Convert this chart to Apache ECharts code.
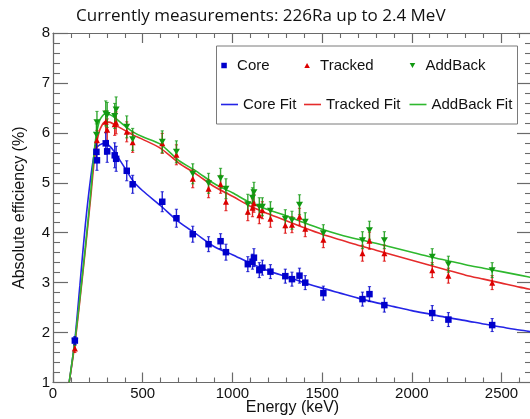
<!DOCTYPE html>
<html><head><meta charset="utf-8">
<script src="https://cdn.jsdelivr.net/npm/echarts@6/dist/echarts.min.js"></script>
<style>html,body{margin:0;padding:0;background:#fff}#c{width:530px;height:419px}</style>
</head><body><div id="c"></div>
<script>
// ---- data ----
const titleText = 'Currently measurements: 226Ra up to 2.4 MeV';
const xTickValues = [0, 500, 1000, 1500, 2000, 2500];
const yTickValues = [1, 2, 3, 4, 5, 6, 7, 8];

const energies = [121.8, 242, 245, 294, 302, 344, 352, 411, 444, 609, 688, 779, 867, 934, 964,
  1086, 1112, 1120, 1150, 1167, 1212, 1295, 1332, 1374, 1406, 1507, 1725, 1764, 1847, 2114, 2204, 2448];
const coreEff = [1.84, 5.62, 5.45, 5.79, 5.63, 5.55, 5.48, 5.24, 4.97, 4.62, 4.29, 3.97, 3.77, 3.83, 3.61,
  3.37, 3.42, 3.50, 3.25, 3.30, 3.22, 3.13, 3.07, 3.14, 3.00, 2.79, 2.67, 2.77, 2.55, 2.39, 2.26, 2.15];
const coreErr = [0.08, 0.2, 0.2, 0.22, 0.22, 0.25, 0.25, 0.2, 0.18, 0.2, 0.18, 0.16, 0.15, 0.15, 0.16,
  0.15, 0.15, 0.18, 0.15, 0.15, 0.14, 0.14, 0.14, 0.15, 0.14, 0.14, 0.14, 0.15, 0.14, 0.15, 0.14, 0.13];
const trackedEff = [1.68, 5.62, 5.85, 6.22, 6.06, 6.17, 6.20, 6.02, 5.81, 5.79, 5.56, 5.08, 4.88, 4.97, 4.62,
  4.42, 4.50, 4.59, 4.35, 4.45, 4.28, 4.15, 4.16, 4.32, 4.08, 3.86, 3.59, 3.84, 3.59, 3.25, 3.14, 3.00];
const trackedErr = [0.08, 0.2, 0.2, 0.22, 0.22, 0.22, 0.22, 0.2, 0.2, 0.2, 0.2, 0.18, 0.18, 0.18, 0.18,
  0.18, 0.18, 0.18, 0.17, 0.17, 0.17, 0.16, 0.16, 0.17, 0.16, 0.16, 0.16, 0.17, 0.16, 0.15, 0.15, 0.14];
const addbackEff = [1.82, 5.96, 6.21, 6.39, 6.36, 6.34, 6.47, 6.12, 5.87, 5.82, 5.62, 5.18, 4.99, 5.09, 4.88,
  4.57, 4.70, 4.81, 4.52, 4.52, 4.44, 4.28, 4.25, 4.56, 4.22, 3.99, 3.85, 4.05, 3.85, 3.52, 3.37, 3.25];
const addbackErr = [0.08, 0.22, 0.22, 0.25, 0.25, 0.25, 0.25, 0.22, 0.22, 0.22, 0.22, 0.2, 0.2, 0.2, 0.2,
  0.2, 0.2, 0.2, 0.18, 0.18, 0.18, 0.18, 0.18, 0.2, 0.18, 0.17, 0.17, 0.18, 0.17, 0.16, 0.16, 0.15];

const fitEnergies = [90, 121, 150, 180, 210, 235, 260, 290, 320, 350, 400, 450, 500, 600, 700, 800, 900, 1000,
  1100, 1200, 1300, 1400, 1500, 1600, 1700, 1800, 1900, 2000, 2100, 2200, 2300, 2400, 2500, 2600, 2700];
const coreFit = [1.0, 1.82, 2.95, 4.15, 5.1, 5.66, 5.76, 5.79, 5.72, 5.58, 5.3, 5.02, 4.84, 4.54, 4.22, 3.97, 3.72, 3.56,
  3.39, 3.24, 3.12, 3.0, 2.89, 2.79, 2.69, 2.6, 2.52, 2.44, 2.37, 2.3, 2.24, 2.17, 2.11, 2.05, 2.0];
const trackedFit = [1.0, 1.75, 2.65, 3.65, 4.7, 5.6, 6.05, 6.22, 6.21, 6.15, 6.05, 5.95, 5.87, 5.69, 5.4, 5.17, 4.92, 4.73,
  4.53, 4.38, 4.24, 4.1, 3.97, 3.86, 3.75, 3.65, 3.55, 3.45, 3.35, 3.25, 3.15, 3.07, 2.99, 2.91, 2.84];
const addbackFit = [1.0, 1.8, 2.7, 3.7, 4.8, 5.8, 6.25, 6.38, 6.36, 6.29, 6.14, 6.01, 5.92, 5.77, 5.45, 5.23, 4.98, 4.8,
  4.6, 4.46, 4.34, 4.2, 4.07, 3.96, 3.87, 3.79, 3.7, 3.61, 3.52, 3.44, 3.36, 3.29, 3.22, 3.15, 3.08];

// ---- styles ----
const FONT = '"Liberation Sans", Arial, sans-serif';
const AX = '#6a6a6a';
const cCore = '#0000cc', cTr = '#dd0000', cAb = '#119911';
const lCore = '#2424e6', lTr = '#e52b2b', lAb = '#2eb82e';
const triUp = 'path://M5,0 L10,9 L0,9 Z';
const triDown = 'path://M0,0 L10,0 L5,9 Z';
const square = 'path://M0,0 L10,0 L10,10 L0,10 Z';

function pts(vals) { return energies.map((e, i) => [e, vals[i]]); }
function fitPts(vals) { return fitEnergies.map((e, i) => [e, vals[i]]); }

function errSeries(vals, errs, color) {
  return {
    type: 'custom', xAxisIndex: 0, yAxisIndex: 0, silent: true, z: 3,
    data: energies.map((e, i) => [e, vals[i], errs[i]]),
    renderItem: function (params, api) {
      const x = api.value(0), y = api.value(1), er = api.value(2);
      const t = api.coord([x, y + er]), b = api.coord([x, y - er]);
      const cap = 1.6;
      return {
        type: 'group', children: [
          { type: 'line', shape: { x1: t[0], y1: t[1], x2: b[0], y2: b[1] }, style: { stroke: color, lineWidth: 1.4, opacity: 0.85 } },
          { type: 'line', shape: { x1: t[0] - cap, y1: t[1], x2: t[0] + cap, y2: t[1] }, style: { stroke: color, lineWidth: 1, opacity: 0.8 } },
          { type: 'line', shape: { x1: b[0] - cap, y1: b[1], x2: b[0] + cap, y2: b[1] }, style: { stroke: color, lineWidth: 1, opacity: 0.8 } }
        ]
      };
    }
  };
}

function xAx(pos) {
  return {
    type: 'value', min: 0, max: 2670, interval: 500, position: pos,
    axisLine: { show: true, onZero: false, lineStyle: { color: AX, width: 1.2 } },
    axisTick: { show: true, inside: true, length: 10, lineStyle: { color: AX, width: 1.2 },
      customValues: xTickValues },
    minorTick: { show: true, splitNumber: 5, length: 5, lineStyle: { color: AX, width: 1.1 } },
    splitLine: { show: false }, minorSplitLine: { show: false },
    axisLabel: pos === 'bottom' ? { show: true, color: '#111', fontFamily: FONT, fontSize: 15, margin: 4,
      customValues: xTickValues, formatter: function (v) { return String(v); } } : { show: false },
    name: pos === 'bottom' ? 'Energy (keV)' : '', nameLocation: 'middle', nameGap: 17, nameMoveOverlap: false,
    nameTextStyle: { fontFamily: FONT, fontSize: 16, color: '#111' }
  };
}
function yAx(pos) {
  return {
    type: 'value', min: 1, max: 8, interval: 1, position: pos,
    axisLine: { show: true, onZero: false, lineStyle: { color: AX, width: 1.2 } },
    axisTick: { show: true, inside: true, length: 15, lineStyle: { color: AX, width: 1.2 } },
    minorTick: { show: true, splitNumber: 5, length: 7, lineStyle: { color: AX, width: 1.1 } },
    splitLine: { show: false }, minorSplitLine: { show: false },
    axisLabel: pos === 'left' ? { show: true, color: '#111', fontFamily: FONT, fontSize: 15, margin: 3,
      formatter: function (v) { return String(v); } } : { show: false },
    name: pos === 'left' ? 'Absolute efficiency (%)' : '', nameLocation: 'middle', nameGap: 25, nameMoveOverlap: false,
    nameTextStyle: { fontFamily: FONT, fontSize: 16, color: '#111' }
  };
}

function lg(item, left, top, w, h) {
  return {
    data: [item], left: left, top: top, itemWidth: w, itemHeight: h, padding: 0, itemGap: 0,
    selectedMode: false, z: 6, symbolKeepAspect: true,
    textStyle: { fontFamily: FONT, fontSize: 15, color: '#111' }
  };
}

const chart = echarts.init(document.getElementById('c'), null, { renderer: 'canvas' });
chart.setOption({
  animation: false,
  backgroundColor: '#fff',
  title: { text: titleText, left: 76, top: 8, padding: 0,
    textStyle: { fontFamily: '"Open Sans", sans-serif', fontSize: 17, fontWeight: 'normal', color: '#111' } },
  grid: { left: 53, top: 33, width: 479, height: 349.5, containLabel: false, outerBoundsMode: 'none' },
  xAxis: [xAx('bottom'), xAx('top')],
  yAxis: [yAx('left'), yAx('right')],
  graphic: [{ type: 'rect', z: 5, silent: true,
    shape: { x: 216.5, y: 46, width: 301, height: 78 },
    style: { fill: '#fff', stroke: '#7a7a7a', lineWidth: 1 } }],
  legend: [
    lg({ name: 'Core', icon: square }, 221.3, 58, 16, 5.5),
    lg({ name: 'Tracked', icon: triUp }, 304.3, 58, 16, 5),
    lg({ name: 'AddBack', icon: triDown }, 409.7, 58, 16, 5),
    lg({ name: 'Core Fit', icon: 'rect' }, 221, 97, 17, 1.6),
    lg({ name: 'Tracked Fit', icon: 'rect' }, 304, 97, 17, 1.6),
    lg({ name: 'AddBack Fit', icon: 'rect' }, 409.5, 97, 17, 1.6)
  ],
  series: [
    { name: 'Core Fit', type: 'line', data: fitPts(coreFit), symbol: 'none', smooth: 0.25, z: 2,
      lineStyle: { color: lCore, width: 1.6 }, itemStyle: { color: lCore } },
    { name: 'Tracked Fit', type: 'line', data: fitPts(trackedFit), symbol: 'none', smooth: 0.25, z: 2,
      lineStyle: { color: lTr, width: 1.6 }, itemStyle: { color: lTr } },
    { name: 'AddBack Fit', type: 'line', data: fitPts(addbackFit), symbol: 'none', smooth: 0.25, z: 2,
      lineStyle: { color: lAb, width: 1.6 }, itemStyle: { color: lAb } },
    errSeries(trackedEff, trackedErr, cTr),
    errSeries(addbackEff, addbackErr, cAb),
    errSeries(coreEff, coreErr, cCore),
    { name: 'Tracked', type: 'scatter', data: pts(trackedEff), symbol: triUp, symbolSize: [6, 6], z: 4,
      itemStyle: { color: cTr, opacity: 1 } },
    { name: 'AddBack', type: 'scatter', data: pts(addbackEff), symbol: triDown, symbolSize: [7, 6], z: 4,
      itemStyle: { color: cAb, opacity: 1 } },
    { name: 'Core', type: 'scatter', data: pts(coreEff), symbol: square, symbolSize: 6.5, z: 4,
      itemStyle: { color: cCore, opacity: 1 } }
  ]
});
</script>
</body></html>
